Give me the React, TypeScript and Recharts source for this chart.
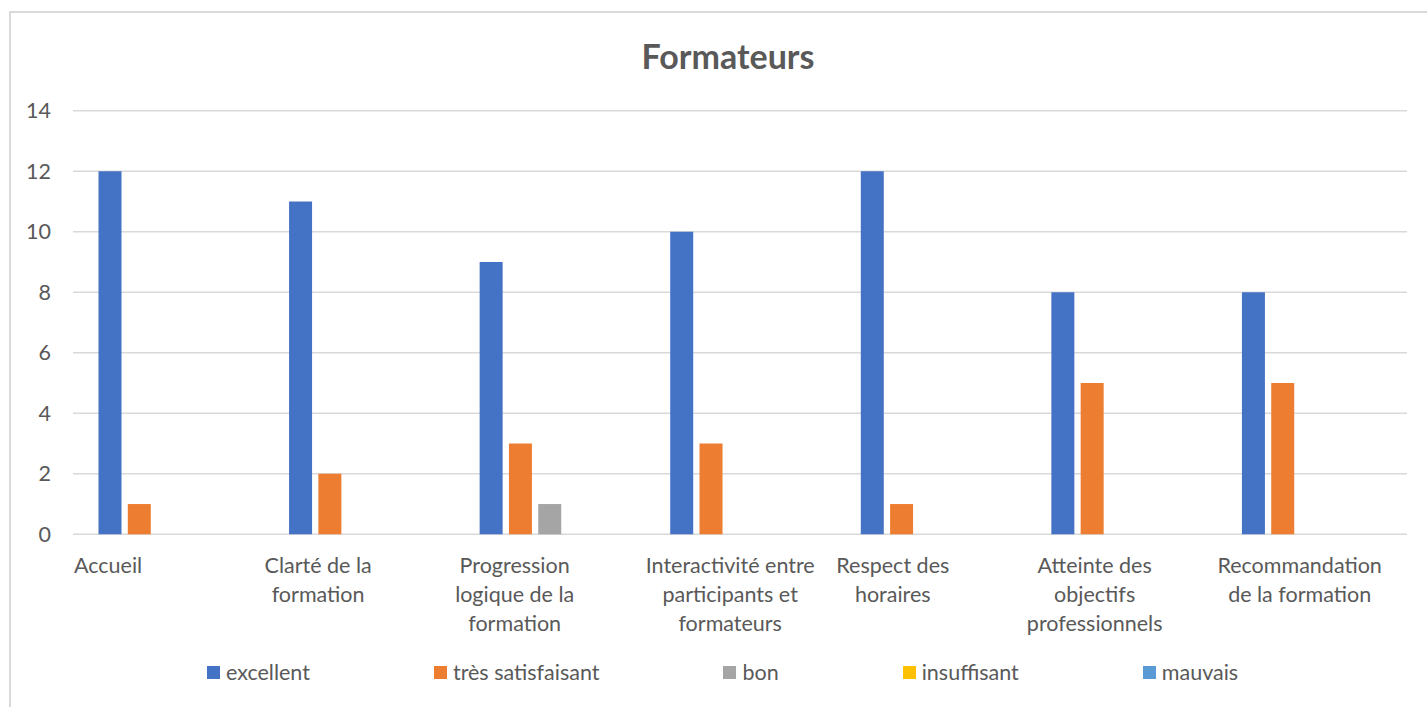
import React from 'react';
import { BarChart, Bar, XAxis, YAxis, CartesianGrid, Legend } from 'recharts';

const categories = [
  'Accueil',
  'Clarté de la\nformation',
  'Progression\nlogique de la\nformation',
  'Interactivité entre\nparticipants et\nformateurs',
  'Respect des\nhoraires',
  'Atteinte des\nobjectifs\nprofessionnels',
  'Recommandation\nde la formation',
];

const excellent = [12, 11, 9, 10, 12, 8, 8];
const tresSatisfaisant = [1, 2, 3, 3, 1, 5, 5];
const bon = [0, 0, 1, 0, 0, 0, 0];
const insuffisant = [0, 0, 0, 0, 0, 0, 0];
const mauvais = [0, 0, 0, 0, 0, 0, 0];

const yTicks = [0, 2, 4, 6, 8, 10, 12, 14];

const series = [
  { key: 'excellent', name: 'excellent', color: '#4472C4' },
  { key: 'tres', name: 'très satisfaisant', color: '#ED7D31' },
  { key: 'bon', name: 'bon', color: '#A5A5A5' },
  { key: 'insuffisant', name: 'insuffisant', color: '#FFC000' },
  { key: 'mauvais', name: 'mauvais', color: '#5B9BD5' },
];

const data = categories.map((c, i) => ({
  cat: c,
  excellent: excellent[i],
  tres: tresSatisfaisant[i],
  bon: bon[i],
  insuffisant: insuffisant[i],
  mauvais: mauvais[i],
}));

const FONT = 'Lato';
const FS = 21.5;
const TEXT = '#595959';

const ctx = typeof document !== 'undefined' ? document.createElement('canvas').getContext('2d') : null;
const measure = (s: string) => {
  if (!ctx) return s.length * FS * 0.5;
  ctx.font = `${FS}px ${FONT}`;
  return ctx.measureText(s).width;
};

const PLOT_LEFT = 73;
const PLOT_RIGHT = 1407;
const PLOT_BOTTOM = 534.3;
const XAXIS_H = 30;
const BAND = (PLOT_RIGHT - PLOT_LEFT) / categories.length;

const CatTick = (props: any) => {
  const { x, y, payload } = props;
  const lines = String(payload.value).split('\n');
  const maxW = Math.max(...lines.map(measure));
  const cx = x - BAND / 2 + 1 + maxW / 2;
  return (
    <g>
      {lines.map((l, i) => (
        <text key={i} x={cx} y={y + 38.5 + i * 29} textAnchor="middle" fill={TEXT} fontSize={FS} fontFamily={FONT}>
          {l}
        </text>
      ))}
    </g>
  );
};

const LegendContent = () => (
  <div style={{ display: 'flex', alignItems: 'center', fontFamily: FONT, fontSize: FS, color: TEXT, whiteSpace: 'nowrap' }}>
    {series.map((s) => (
      <div key={s.key} style={{ display: 'flex', alignItems: 'center', marginRight: 124 }}>
        <span style={{ display: 'inline-block', width: 13, height: 13, background: s.color, marginRight: 6 }} />
        <span>{s.name}</span>
      </div>
    ))}
  </div>
);

export default function App() {
  return (
    <div style={{ position: 'fixed', left: 0, top: 0, width: 1427, height: 707, overflow: 'hidden', background: '#fff' }}>
      <div
        style={{
          position: 'absolute',
          left: 9,
          top: 11,
          width: 1440,
          height: 720,
          border: '2px solid #d9d9d9',
          boxSizing: 'border-box',
        }}
      />
      <div
        style={{
          position: 'absolute',
          left: 728,
          top: 39,
          transform: 'translateX(-50%)',
          fontFamily: FONT,
          fontWeight: 700,
          fontSize: 34,
          lineHeight: '34px',
          color: TEXT,
          whiteSpace: 'nowrap',
        }}
      >
        Formateurs
      </div>
      <div style={{ position: 'absolute', left: 0, top: 0 }}>
        <BarChart
          width={1427}
          height={707}
          data={data}
          margin={{ top: 110.7, right: 1427 - PLOT_RIGHT, bottom: 707 - PLOT_BOTTOM - XAXIS_H, left: 0 }}
          barCategoryGap={25.5}
          barGap={6.3}
        >
          <CartesianGrid vertical={false} stroke="#d9d9d9" strokeWidth={1.5} />
          <XAxis
            dataKey="cat"
            height={XAXIS_H}
            axisLine={false}
            tickLine={false}
            tickSize={0}
            tickMargin={0}
            interval={0}
            tick={<CatTick />}
          />
          <YAxis
            width={PLOT_LEFT}
            domain={[0, 14]}
            ticks={yTicks}
            axisLine={false}
            tickLine={false}
            tickSize={0}
            tickMargin={22}
            tick={{ fill: TEXT, fontSize: FS, fontFamily: FONT }}
          />
          <Legend
            layout="horizontal"
            verticalAlign="middle"
            align="center"
            content={<LegendContent />}
            wrapperStyle={{ position: 'absolute', left: 207, top: 659, width: 'auto' }}
          />
          {series.map((s) => (
            <Bar key={s.key} dataKey={s.key} name={s.name} fill={s.color} isAnimationActive={false} />
          ))}
        </BarChart>
      </div>
    </div>
  );
}
